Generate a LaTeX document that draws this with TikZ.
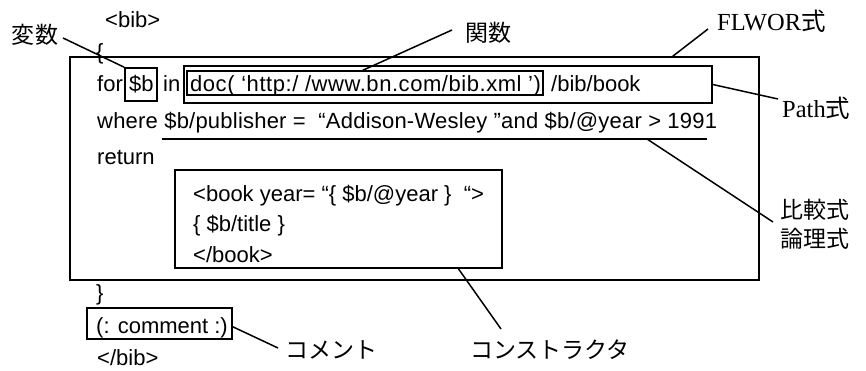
\documentclass[tikz,border=0pt]{standalone}
\usepackage{fontspec}
\setmainfont{Liberation Sans}
\newfontfamily\jpfont{Noto Sans CJK JP}
\newfontfamily\serifft{Liberation Serif}
\usetikzlibrary{fit,calc}
\begin{document}
\begin{tikzpicture}[x=1pt,y=-1pt,
  code/.style={anchor=base west,inner sep=0pt,font=\fontsize{22}{26}\selectfont},
  jplabel/.style={inner sep=0pt,font=\jpfont\fontsize{23}{27}\selectfont},
  serlabel/.style={inner sep=0pt,anchor=base west,font=\serifft\fontsize{24.5}{28}\selectfont},
  box/.style={draw,line width=1.5pt,inner sep=0pt},
  lead/.style={line width=1.5pt}]
\useasboundingbox (0,0) rectangle (866,371);
% boxes
\node[box,fit={(70,57)(759,280)}] (flwor) {};
\node[box,fit={(184,66)(712,103)}] (pathbox) {};
\node[box,fit={(187,71)(543,95)}] (funcbox) {};
\node[box,fit={(125,68)(157,101)}] (vbox) {};
\node[box,fit={(175,170)(502,268)}] (consbox) {};
\node[box,fit={(87,308)(232,339)}] (cmbox) {};
% code text
\node[code] (bibo) at (105,28) {<bib>};
\node[code] (lbrace) at (96,60) {\{};
\node[code] (kfor) at (97,92) {for};
\node[code] (kvb) at (129,92) {\$b};
\node[code] (kin) at (163,92) {in};
\node[code,font=\fontsize{22}{26}\selectfont\addfontfeature{LetterSpace=2.5}] (kdoc) at (190,92) {doc( ‘http:/ /www.bn.com/bib.xml ’)};
\node[code] (kbb) at (551,92) {/bib/book};
\node[code,font=\fontsize{22}{26}\selectfont\addfontfeature{LetterSpace=1}] (kwhere) at (97,129) {where \$b/publisher = \ “Addison-Wesley ”and \$b/@year > 1991};
\node[code] (kret) at (97,165) {return};
\node[code] (c1) at (193,202) {<book year= “\{ \$b/@year \} \ “>};
\node[code] (c2) at (193,231) {\{ \$b/title \}};
\node[code] (c3) at (193,262) {</book>};
\node[code] (rbrace) at (96,300) {\}};
\node[code] (kcm) at (96,333) {(: comment :)};
\node[code] (bibc) at (97,365) {</bib>};
% labels
\node[jplabel] (hensu) at (35,35) {変数};
\node[jplabel] (kansu) at (488,33) {関数};
\node[serlabel] (flworl) at (717,31) {FLWOR{\jpfont 式}};
\node[serlabel] (pathl) at (782,118) {Path{\jpfont 式}};
\node[jplabel,align=left] (hikaku) at (815,224) {比較式\\[2pt]論理式};
\node[jplabel] (cons) at (550,350) {コンストラクタ};
\node[jplabel] (comment) at (331,350) {コメント};
% leader lines
\coordinate (h1) at (63,38);
\coordinate (k1) at (452,30);
\coordinate (f1) at (708,29);
\coordinate (p1) at (778,99);
\coordinate (u1) at (162,139);
\coordinate (u2) at (707,139);
\coordinate (u3) at (647,139);
\coordinate (r1) at (773,222);
\coordinate (s1) at (501,329);
\coordinate (m1) at (278,348);
\draw[lead] (u1) -- (u2);
\draw[lead] (h1) -- (vbox.north west);
\draw[lead] (k1) -- ($(funcbox.north west)!0.494!(funcbox.north east)$);
\draw[lead] (f1) -- ($(flwor.north west)!0.874!(flwor.north east)$);
\draw[lead] (pathbox.east) -- (p1);
\draw[lead] (u3) -- (r1);
\draw[lead] ($(consbox.south west)!0.865!(consbox.south east)$) -- (s1);
\draw[lead] ($(cmbox.north east)!0.6!(cmbox.south east)$) -- (m1);
\end{tikzpicture}
\end{document}
